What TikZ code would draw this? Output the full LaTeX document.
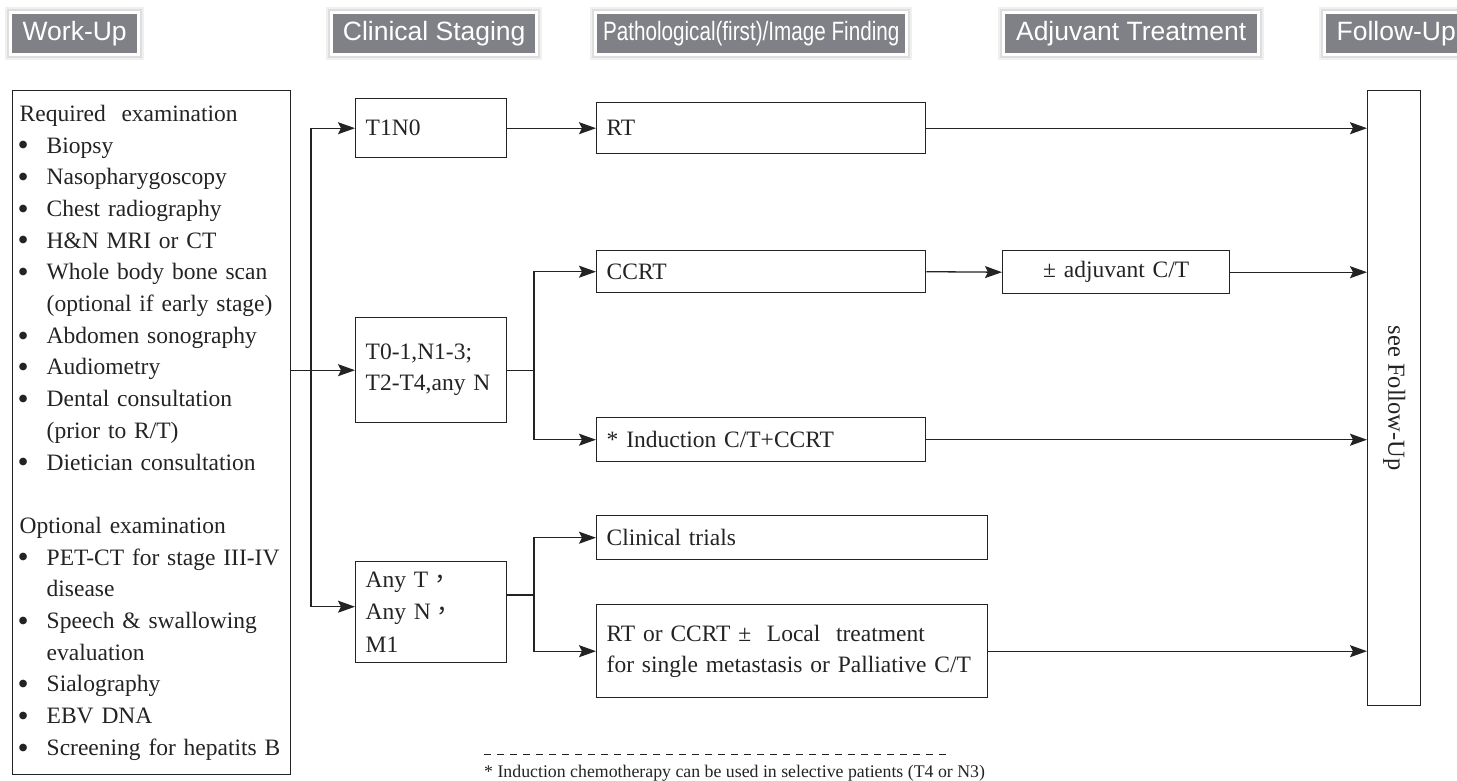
\documentclass[tikz,border=0pt]{standalone}
\usepackage{fontspec}
\setmainfont{Liberation Serif}
\newfontfamily\hdrfont{Liberation Sans}
\newfontfamily\cjk{Noto Sans CJK TC}
\usetikzlibrary{arrows.meta}
\definecolor{hdrgray}{RGB}{128,129,134}
\definecolor{ink}{RGB}{35,35,35}

% bullet item and continuation line for the work-up list
\newcommand\bl[1]{\makebox[27pt][l]{\hspace{-2pt}\raisebox{-2.8pt}{\scalebox{1.35}{•}}}#1}
\newcommand\cl[1]{\hspace*{27pt}#1}
\newcommand\fwc{{\cjk ，}}

% grey column header with white frame and soft glow
\newcommand\hdrbox[4]{%
  \fill[black!6] (#2-7,7) rectangle (#3+7,60);
  \fill[black!13] (#2-5,9) rectangle (#3+5,58);
  \fill[white] (#2-3,11) rectangle (#3+3,56);
  \node[hdr, minimum width=#3-#2] (#1) at (#2,14) {#4};
}

\begin{document}
\begin{tikzpicture}[x=1pt,y=-1pt,
  hdr/.style={fill=hdrgray, text=white, inner sep=0pt, anchor=north west,
    minimum height=39pt, font=\hdrfont\fontsize{26.5}{30}\selectfont},
  box/.style={draw=ink, line width=1.4pt, anchor=north west, inner ysep=0pt,
    inner xsep=10pt, align=left, text=ink, font=\fontsize{23.5}{31}\selectfont},
  arr/.style={draw=ink, line width=1.3pt, -{Stealth[length=17pt,width=12pt,inset=3pt]}},
  ln/.style={draw=ink, line width=1.3pt}]
\useasboundingbox (0,0) rectangle (1457,780);

% column headers
\hdrbox{hwu}{12}{137}{Work-Up}
\hdrbox{hcs}{333}{535}{Clinical Staging}
\hdrbox{hpf}{597}{905}{\scalebox{0.78}[1]{Pathological(first)/Image Finding}}
\hdrbox{hat}{1005}{1257}{Adjuvant Treatment}
\hdrbox{hfu}{1326}{1466}{Follow-Up}

% work-up list
\node[box, inner xsep=7pt, text width=264pt, minimum height=684pt,
  font=\fontsize{23.5}{31.7}\selectfont] (wu) at (12,90) {%
  Required\ \ examination\\
  \bl{Biopsy}\\
  \bl{Nasopharygoscopy}\\
  \bl{Chest radiography}\\
  \bl{H\&N MRI or CT}\\
  \bl{Whole body bone scan}\\
  \cl{(optional if early stage)}\\
  \bl{Abdomen sonography}\\
  \bl{Audiometry}\\
  \bl{Dental consultation}\\
  \cl{(prior to R/T)}\\
  \bl{Dietician consultation}\\
  \mbox{}\\
  Optional examination\\
  \bl{PET-CT for stage III-IV}\\
  \cl{disease}\\
  \bl{Speech \& swallowing}\\
  \cl{evaluation}\\
  \bl{Sialography}\\
  \bl{EBV DNA}\\
  \bl{Screening for hepatits B}};

% clinical staging
\node[box, text width=131pt, minimum height=59pt] (t1n0) at (355,98) {T1N0};
\node[box, text width=131pt, minimum height=105pt] (t01) at (355,317)
  {T0-1,N1-3;\\T2-T4,any N};
\node[box, text width=131pt, minimum height=101pt,
  font=\fontsize{23.5}{32.5}\selectfont] (anyt) at (355,561)
  {Any T\fwc\\Any N\fwc\\M1};

% findings / treatment
\node[box, text width=309pt, minimum height=51pt] (rt) at (596,102) {RT};
\node[box, text width=309pt, minimum height=42pt] (ccrt) at (596,250) {CCRT};
\node[box, text width=309pt, minimum height=44pt] (ind) at (596,417)
  {* Induction C/T+CCRT};
\node[box, text width=371pt, minimum height=44pt] (trial) at (596,515)
  {Clinical trials};
\node[box, text width=371pt, minimum height=93pt] (rtc) at (596,604)
  {RT or CCRT ±\ \ Local\ \ treatment\\for single metastasis or Palliative C/T};

% adjuvant
\node[box, align=center, text width=207pt, minimum height=43pt] (adj) at (1002,250)
  {± adjuvant C/T};

% follow-up column
\node[draw=ink, line width=1.4pt, anchor=north west, minimum width=53pt,
  minimum height=615pt, inner sep=0pt] (fu) at (1367,90) {};
\node[rotate=-90, text=ink, font=\fontsize{24.5}{28}\selectfont] (fut) at (fu.center)
  {see Follow-Up};

% connectors: work-up to staging
\coordinate (sp) at (311,0);
\draw[arr] (wu.east |- t01.west) -- (t01.west);
\draw[arr] (sp |- t01.west) |- (t1n0.west);
\draw[arr] (sp |- t01.west) |- ([yshift=5.5pt]anyt.west);

% staging to findings
\draw[arr] (t1n0.east) -- (rt.west);
\coordinate (f1) at (534,0);
\draw[ln] (t01.east) -- (f1 |- t01.east);
\draw[arr] (f1 |- t01.east) |- (ccrt.west);
\draw[arr] (f1 |- t01.east) |- (ind.west);
\coordinate (f2) at (534,595);
\draw[ln] (anyt.east |- f2) -- (f2);
\draw[arr] (f2) |- (trial.west);
\draw[arr] (f2) |- (rtc.west);

% findings to adjuvant / follow-up
\draw[arr] (ccrt.east) -- (adj.west);
\draw[arr] (adj.east) -- (adj.east -| fu.west);
\draw[arr] (rt.east) -- (rt.east -| fu.west);
\draw[arr] (ind.east) -- (ind.east -| fu.west);
\draw[arr] (rtc.east) -- (rtc.east -| fu.west);

% footnote
\coordinate (fa) at (484,754);
\coordinate (fb) at (952,754);
\draw[ink, line width=1pt, dash pattern=on 7pt off 6pt] (fa) -- (fb);
\node[anchor=base west, inner sep=0pt, text=ink, font=\fontsize{17.8}{20}\selectfont]
  (fn) at (484,777) {* Induction chemotherapy can be used in selective patients (T4 or N3)};
\end{tikzpicture}
\end{document}
